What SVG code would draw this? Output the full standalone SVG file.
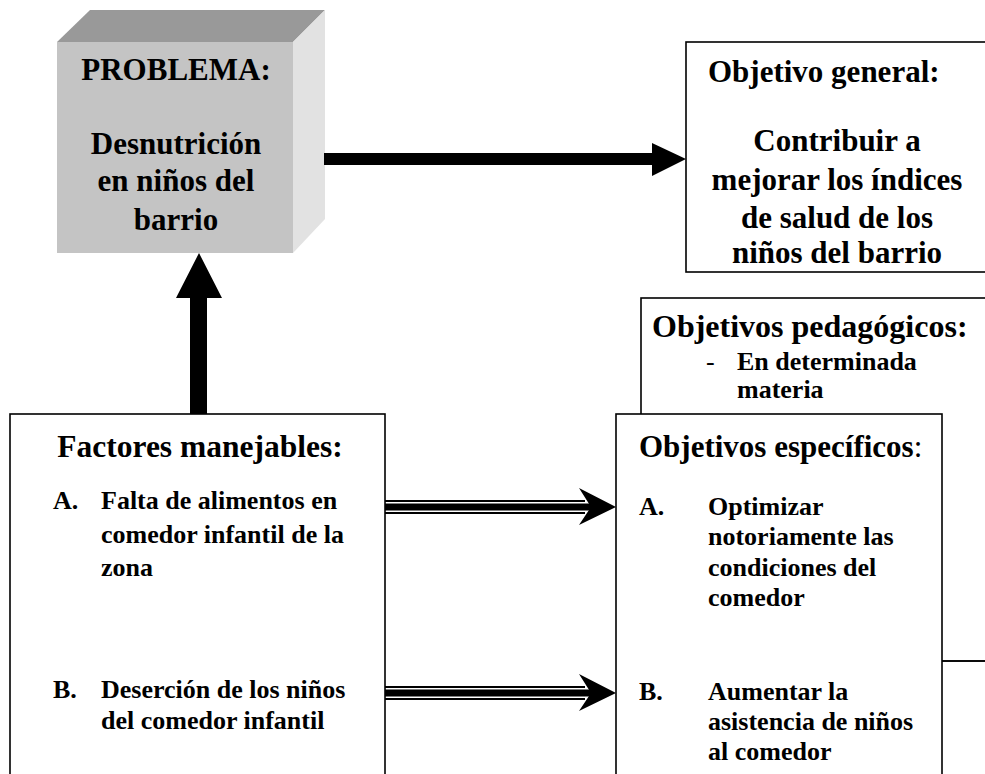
<svg xmlns="http://www.w3.org/2000/svg" width="985" height="774" viewBox="0 0 985 774">
<style>
  text { font-family: "Liberation Serif", "Times New Roman", serif; font-weight: bold; fill: #000; }
  .h { font-size: 31px; }
  .b { font-size: 26px; }
  .c { text-anchor: middle; }
  .box { fill: #fff; stroke: #000; stroke-width: 1.6; }
</style>
<defs>
  <g id="dblarrow">
    <rect x="0" y="-7" width="200" height="2" fill="#000"/>
    <rect x="0" y="-3.5" width="206" height="7" fill="#000"/>
    <rect x="0" y="5" width="200" height="2" fill="#000"/>
    <polygon points="194,-19 231,0 194,18 206,0" fill="#000"/>
  </g>
</defs>

<g id="problema">
  <polygon points="57,42 90,10 325,10 293,42" fill="#999"/>
  <polygon points="293,42 325,10 325,219 293,253" fill="#e2e2e2"/>
  <rect x="57" y="42" width="236" height="211" fill="#c4c4c4"/>
  <text class="h c" x="176" y="80">PROBLEMA:</text>
  <text class="h c" x="176" y="154">Desnutrición</text>
  <text class="h c" x="176" y="191">en niños del</text>
  <text class="h c" x="176" y="230">barrio</text>
</g>

<g id="objetivo-general">
  <rect class="box" x="686" y="42" width="320" height="230"/>
  <text class="h" x="708" y="82">Objetivo general:</text>
  <text class="h c" x="837" y="151">Contribuir a</text>
  <text class="h c" x="837" y="190">mejorar los índices</text>
  <text class="h c" x="837" y="228">de salud de los</text>
  <text class="h c" x="837" y="263">niños del barrio</text>
</g>

<g id="objetivos-pedagogicos">
  <rect class="box" x="641" y="298" width="360" height="363"/>
  <text class="h" x="652" y="337" style="font-size:32px">Objetivos pedagógicos:</text>
  <text class="b" x="706" y="370" style="font-weight:normal">-</text>
  <text class="b" x="737" y="370">En determinada</text>
  <text class="b" x="737" y="398">materia</text>
</g>

<g id="factores">
  <rect class="box" x="10" y="414" width="375" height="400"/>
  <text class="h c" x="200" y="457" style="font-size:31.5px">Factores manejables:</text>
  <text class="b" x="53" y="509">A.</text>
  <text class="b" x="101" y="509">Falta de alimentos en</text>
  <text class="b" x="101" y="543">comedor infantil de la</text>
  <text class="b" x="101" y="576">zona</text>
  <text class="b" x="53" y="698">B.</text>
  <text class="b" x="101" y="698">Deserción de los niños</text>
  <text class="b" x="101" y="729">del comedor infantil</text>
</g>

<g id="objetivos-especificos">
  <rect class="box" x="616" y="414" width="326" height="400"/>
  <text class="h" x="639" y="457">Objetivos específicos<tspan style="font-weight:normal">:</tspan></text>
  <text class="b" x="639" y="515">A.</text>
  <text class="b" x="708" y="515">Optimizar</text>
  <text class="b" x="708" y="545">notoriamente las</text>
  <text class="b" x="708" y="576">condiciones del</text>
  <text class="b" x="708" y="606">comedor</text>
  <text class="b" x="639" y="700">B.</text>
  <text class="b" x="708" y="700">Aumentar la</text>
  <text class="b" x="708" y="730">asistencia de niños</text>
  <text class="b" x="708" y="760">al comedor</text>
</g>

<g id="connectors">
  <polygon points="324,153 652,153 652,143 686,159 652,176 652,165 324,165" fill="#000"/>
  <polygon points="190,414 190,298 176,298 199,253 222,298 207,298 207,414" fill="#000"/>
  <use href="#dblarrow" x="385" y="507"/>
  <use href="#dblarrow" x="385" y="693"/>
  <line x1="942" y1="661" x2="985" y2="661" stroke="#000" stroke-width="1.6"/>
</g>
</svg>
